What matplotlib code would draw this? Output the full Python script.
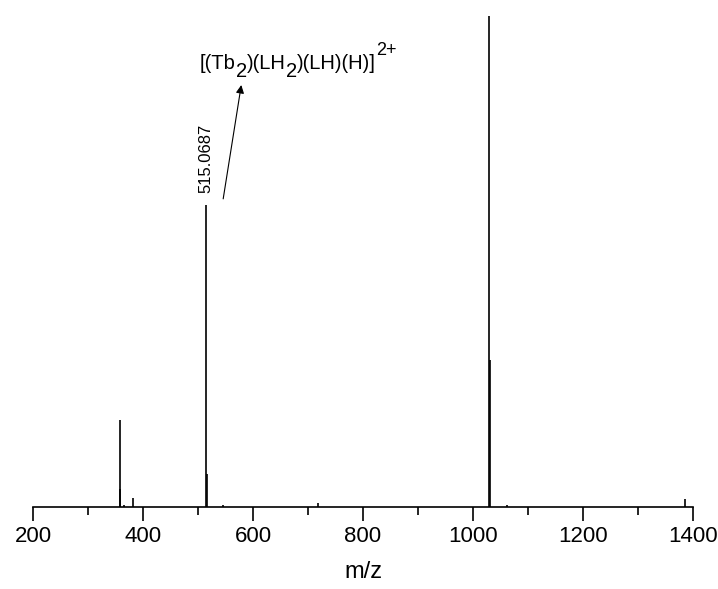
import matplotlib
matplotlib.use("Agg")
import matplotlib.pyplot as plt

plt.rcParams['font.family'] = ['Liberation Sans', 'DejaVu Sans']

# Peak list (m/z, relative intensity)
mz = [358.5, 359.0, 365.0, 381.5, 514.9, 515.6, 545.0, 718.0, 1029.0, 1030.0, 1062.0, 1386.0]
intensity = [0.178, 0.037, 0.005, 0.018, 0.616, 0.067, 0.004, 0.008, 1.0, 0.30, 0.004, 0.016]

xticks_major = [200, 400, 600, 800, 1000, 1200, 1400]
xticks_minor = [300, 500, 700, 900, 1100, 1300]
peak_label = "515.0687"
xlabel = "m/z"

fig = plt.figure(figsize=(7.18, 5.89), dpi=100)
ax = fig.add_axes([33/718, 1-507/589, 660/718, (507-16)/589])

ax.vlines(mz, 0, intensity, colors='black', linewidth=1.2)

ax.set_xlim(200, 1400)
ax.set_ylim(0, 1.0)
for s in ['top', 'right', 'left']:
    ax.spines[s].set_visible(False)
ax.spines['bottom'].set_linewidth(1.2)
ax.set_yticks([])
ax.set_xticks(xticks_major)
ax.set_xticks(xticks_minor, minor=True)
ax.tick_params(axis='x', which='major', direction='out', length=10, width=1.2,
               labelsize=16, pad=4)
ax.tick_params(axis='x', which='minor', direction='out', length=6, width=1.2)
ax.set_xlabel(xlabel, fontsize=17, labelpad=10)

# Peak label
ax.text(514, 0.64, peak_label, rotation=90, ha='center', va='bottom', fontsize=12)

# Arrow
ax.annotate('', xy=(579.5, 0.865), xytext=(545, 0.622),
            arrowprops=dict(arrowstyle='-|>', lw=0.8, color='black', mutation_scale=12))

# Formula label built from pieces
pieces = [("[(Tb", 0, 14.5), ("2", -8, 14.5), (")(LH", 0, 14.5), ("2", -8, 14.5),
          (")(LH)(H)]", 0, 14.5), ("2+", 14, 13)]
renderer = fig.canvas.get_renderer()
x_px = 200.0
base_px = 69.0
for txt, dy, fs in pieces:
    t = fig.text(x_px/718, 1-(base_px - dy)/589, txt, fontsize=fs,
                 ha='left', va='baseline')
    bb = t.get_window_extent(renderer=renderer)
    x_px += bb.width

fig.savefig("out.png", dpi=100)
